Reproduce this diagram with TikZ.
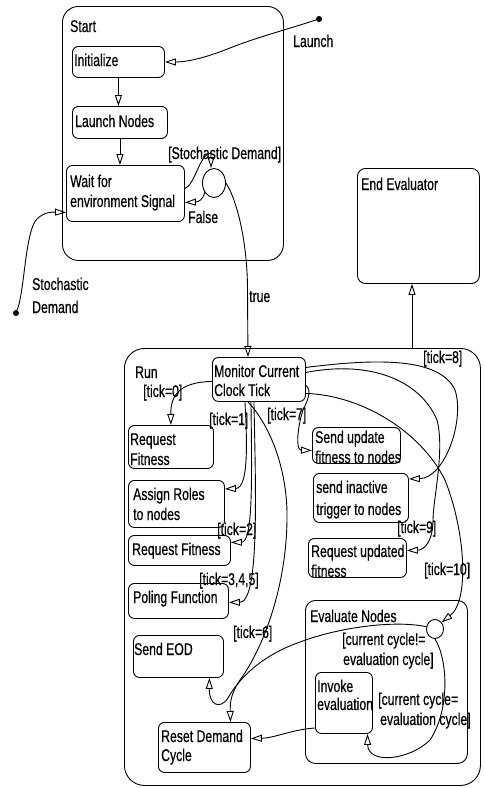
\documentclass[tikz,border=0pt]{standalone}
\usepackage{fontspec}
\setmainfont{Liberation Sans}[FakeStretch=0.72, FakeBold=0.5]
\usetikzlibrary{arrows.meta,shapes.geometric}

\tikzset{
  state/.style={draw, line width=0.9pt, rounded corners=6pt, anchor=north west, inner sep=0pt},
  txt/.style={anchor=base west, inner sep=0pt, font=\fontsize{17}{19}\selectfont},
  flow/.style={line width=0.9pt, -{Triangle[open, length=11pt, width=7pt]}},
  plain/.style={line width=0.9pt},
  choice/.style={ellipse, draw, line width=0.9pt, inner sep=0pt},
  pin/.style={circle, fill=black, inner sep=0pt, minimum size=6pt},
}
% state box: [style] name, left, top, width, height
\newcommand\stbox[6][]{\node[state, #1, minimum width=#5pt, minimum height=#6pt] (#2) at (#3,#4) {};}

\begin{document}
\begin{tikzpicture}[x=1pt, y=-1pt]
\fill[white] (0,0) rectangle (485,788);
\useasboundingbox (0,0) rectangle (485,788);

% ---- Start region ----
\stbox[rounded corners=16pt]{start}{62}{6}{221}{254}
\stbox{init}{72}{46}{92}{31}
\stbox{launch}{72}{106}{95}{32}
\stbox{wait}{66}{165}{118}{56}
\node[choice, minimum width=23pt, minimum height=29pt] (choice) at (214,183) {};

\node[pin] (launchpin) at (319,19) {};
\node[pin] (sdpin) at (16,313) {};

% ---- End Evaluator ----
\stbox[rounded corners=8pt]{endev}{357}{168}{122}{115}

% ---- Run region ----
\stbox[rounded corners=20pt]{run}{124}{348}{356}{437}
\stbox{mon}{212}{357}{93}{44}
\stbox{rfa}{128}{425}{85}{43}
\stbox{assign}{128}{480}{96}{47}
\stbox{rfb}{128}{535}{102}{30}
\stbox{poling}{128}{583}{100}{35}
\stbox{sendeod}{133}{635}{90}{42}
\stbox{reset}{158}{722}{92}{50}
\stbox{sendupd}{312}{427}{88}{36}
\stbox{sendinact}{313}{473}{95}{49}
\stbox{requpd}{308}{538}{98}{39}
\stbox[rounded corners=10pt]{evalnodes}{305}{600}{162}{163}
\stbox{invoke}{315}{672}{57}{61}
\node[choice, minimum width=17pt, minimum height=19pt] (evchoice) at (435,629) {};

% ---- texts ----
\node[txt] (t-start) at (70,32) {Start};
\node[txt] (t-init) at (74,66) {Initialize};
\node[txt] (t-launch) at (75,127) {Launch Nodes};
\node[txt] (t-wait1) at (70,187) {Wait for};
\node[txt] (t-wait2) at (70,207) {environment Signal};
\node[txt] (t-sd) at (168,159) {[Stochastic Demand]};
\node[txt] (t-false) at (188,223) {False};
\node[txt] (t-launchpin) at (293,47) {Launch};
\node[txt] (t-stoch1) at (32,290) {Stochastic};
\node[txt] (t-stoch2) at (32,313) {Demand};
\node[txt] (t-true) at (249,302) {true};
\node[txt] (t-end) at (361,190) {End Evaluator};
\node[txt] (t-run) at (135,378) {Run};
\node[txt] (t-mon1) at (214,377) {Monitor Current};
\node[txt] (t-mon2) at (214,396) {Clock Tick};
\node[txt] (t-tick0) at (143,397) {[tick=0]};
\node[txt] (t-tick1) at (209,425) {[tick=1]};
\node[txt] (t-tick7) at (267,420) {[tick=7]};
\node[txt] (t-tick8) at (423,363) {[tick=8]};
\node[txt] (t-rfa1) at (130,445) {Request};
\node[txt] (t-rfa2) at (130,465) {Fitness};
\node[txt] (t-su1) at (315,443) {Send update};
\node[txt] (t-su2) at (315,463) {fitness to nodes};
\node[txt] (t-si1) at (316,493) {send inactive};
\node[txt] (t-si2) at (316,515) {trigger to nodes};
\node[txt] (t-as1) at (133,500) {Assign Roles};
\node[txt] (t-as2) at (133,520) {to nodes};
\node[txt] (t-tick2) at (217,535) {[tick=2]};
\node[txt] (t-rfb) at (132,555) {Request Fitness};
\node[txt] (t-tick9) at (397,533) {[tick=9]};
\node[txt] (t-ru1) at (311,557) {Request updated};
\node[txt] (t-ru2) at (311,577) {fitness};
\node[txt] (t-tick10) at (424,575) {[tick=10]};
\node[txt] (t-tick345) at (199,585) {[tick=3,4,5]};
\node[txt] (t-pol) at (133,603) {Poling Function};
\node[txt] (t-eval) at (310,622) {Evaluate Nodes};
\node[txt] (t-tick6) at (233,638) {[tick=6]};
\node[txt] (t-neq1) at (342,645) {[current cycle!=};
\node[txt] (t-neq2) at (343,665) {evaluation cycle]};
\node[txt] (t-eod) at (134,655) {Send EOD};
\node[txt] (t-inv1) at (317,692) {Invoke};
\node[txt] (t-inv2) at (317,710) {evaluation};
\node[txt] (t-eq1) at (378,705) {[current cycle=};
\node[txt] (t-eq2) at (380,725) {evaluation cycle]};
\node[txt] (t-reset1) at (161,742) {Reset Demand};
\node[txt] (t-reset2) at (161,761) {Cycle};

% ---- Start transitions ----
\draw[flow] (launchpin) .. controls (285,30) and (255,38) .. (230,48)
  .. controls (210,56) and (190,62) .. (init.east);
\draw[flow] (init.south) -- (init.south |- launch.north);
\draw[flow] (launch.south) -- (launch.south |- wait.north);
\draw[flow] ([yshift=5pt]wait.east) .. controls (195,185) and (200,153) .. (211,153)
  -- (choice.north -| 211,0);
\draw[flow] (choice.225) .. controls (203,200) and (198,202) .. ([yshift=-9pt]wait.east);
\draw[flow] (sdpin) .. controls (25,290) and (25,228) .. (38,218)
  .. controls (45,212) and (52,212) .. ([yshift=-19pt]wait.west);
\draw[flow] (choice.east) .. controls (236,198) and (247.5,240) .. (247.5,290)
  -- ([xshift=-11pt]mon.north);

% ---- Run to End Evaluator ----
\coordinate (runtop) at (412,348);
\draw[flow] (runtop) -- (runtop |- endev.south);

% ---- Run transitions ----
\draw[flow] ([yshift=-2pt]mon.west) .. controls (180,382) and (170.5,395) .. (rfa.north);
\draw[flow] ([xshift=-14pt]mon.south) .. controls (247,440) and (249,488) .. ([yshift=15pt]assign.east);
\draw[flow] ([xshift=-8pt]mon.south) .. controls (252,480) and (253,542) .. ([yshift=8pt]rfb.east);
\draw[flow] ([xshift=-5pt]mon.south) .. controls (256,500) and (259,602) .. ([yshift=-1.5pt]poling.east);
\draw[flow] ([xshift=-11pt]mon.south) .. controls (270,425) and (288,470) .. (287,520)
  .. controls (286,590) and (262,650) .. (240,680)
  .. controls (232,692) and (230,700) .. ([xshift=26pt]reset.north);
\draw[flow] (evchoice.165) .. controls (395,620) and (340,627) .. (300,642)
  .. controls (260,656) and (238,680) .. (228,698)
  .. controls (220,710) and (209,705) .. ([xshift=31pt]sendeod.south);
\draw[flow] (evchoice.south) .. controls (448,660) and (450,710) .. (430,740)
  .. controls (410,760) and (368,765) .. ([xshift=23.5pt]invoke.south);
\draw[flow] ([yshift=-25pt]invoke.west) .. controls (290,730) and (275,738) .. ([yshift=9pt]reset.east);
\draw[flow] ([yshift=-6pt]mon.east) .. controls (312,390) and (308,400) .. (303,410)
  .. controls (298,425) and (295,450) .. ([yshift=-5pt]sendupd.west);
\draw[flow] ([yshift=12pt]mon.east) .. controls (380,358) and (440,358) .. (455,390)
  .. controls (465,420) and (445,478) .. ([yshift=19pt]sendinact.east);
\draw[flow] ([yshift=7pt]mon.east) .. controls (370,360) and (420,380) .. (437,420)
  .. controls (445,450) and (433,500) .. (433,520)
  .. controls (433,540) and (425,550) .. ([yshift=7.5pt]requpd.east);
\draw[flow] ([yshift=-14pt]mon.east) .. controls (360,395) and (420,430) .. (445,480)
  .. controls (465,530) and (470,600) .. (evchoice.45);
\end{tikzpicture}
\end{document}
